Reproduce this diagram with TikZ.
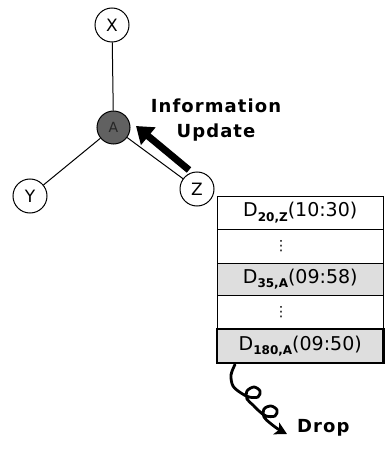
\documentclass[tikz,border=0pt]{standalone}
\usepackage{fontspec}
\setmainfont{DejaVu Sans}
\newfontfamily\lblfont[LetterSpace=6]{DejaVu Sans}
\usetikzlibrary{arrows.meta}
\newcommand{\dsub}[1]{\raisebox{-0.45ex}{\fontsize{12}{12}\selectfont\bfseries #1}}
\tikzset{
  vert/.style={circle, draw, line width=1pt, fill=white, minimum size=34pt, inner sep=0pt,
    font=\fontsize{17}{17}\selectfont},
  hub/.style={circle, draw, line width=1pt, fill=black!62, minimum size=33pt, inner sep=0pt,
    font=\fontsize{14}{14}\selectfont\color{black!85}},
  edge/.style={line width=1pt},
  rowbox/.style={draw, line width=0.8pt, minimum width=166.5pt, inner sep=0pt,
    font=\fontsize{19}{19}\selectfont},
  grayrow/.style={fill=black!13},
  dotsrow/.style={font=\fontsize{14}{14}\selectfont},
  bold lbl/.style={font=\lblfont\bfseries\fontsize{18}{25}\selectfont},
}
\begin{document}
\begin{tikzpicture}[x=1pt,y=-1pt]
\useasboundingbox (0,0) rectangle (385,449);
% graph
\node[hub] (A) at (113.5,127.5) {A};
\node[vert] (X) at (112,25) {X};
\node[vert] (Y) at (30,196) {Y};
\node[vert] (Z) at (197,189) {Z};
\draw[edge] (A) -- (X);
\draw[edge] (A) -- (Y);
\draw[edge] (A) -- (Z);
% update arrow
\coordinate (ut) at (189,170);
\coordinate (uh) at (136,126);
\draw[line width=7pt, -{Triangle[length=16pt,width=22pt]}] (ut) -- (uh);
\node[bold lbl, align=center, anchor=north, inner sep=0pt] (info) at (216,99) {Information\\Update};
% table
\node[rowbox, minimum height=33pt] (r1) at (300.25,212.5) {D\dsub{20,Z}(10:30)};
\node[rowbox, dotsrow, minimum height=34pt] (r2) at (300.25,246) {⋮\hspace*{38.5pt}};
\node[rowbox, grayrow, minimum height=32pt] (r3) at (300.25,279) {D\dsub{35,A}(09:58)};
\node[rowbox, dotsrow, minimum height=34pt] (r4) at (300.25,312) {⋮\hspace*{38.5pt}};
\node[rowbox, grayrow, line width=2.8pt, minimum height=34pt] (r5) at (300.25,346) {D\dsub{180,A}(09:50)};
% drop
\coordinate (ds) at (235,364.5);
\coordinate (de) at (287,434);
\draw[line width=2.8pt, line cap=round, line join=round, -{Stealth[length=12pt,width=13pt,inset=3pt]}]
  plot[smooth, tension=0.55] coordinates {
  (ds) (231,375) (233,386) (241,393) (249,397) (258,397) (260,391) (254,387) (247,391)
  (247,399) (253,405) (259,411) (266,416) (275,416) (277,410) (271,406) (264,409)
  (264,417) (270,423) (278,429) (de)};
\node[bold lbl, anchor=base west, inner sep=0pt] (drop) at (297,432) {Drop};
\end{tikzpicture}
\end{document}
